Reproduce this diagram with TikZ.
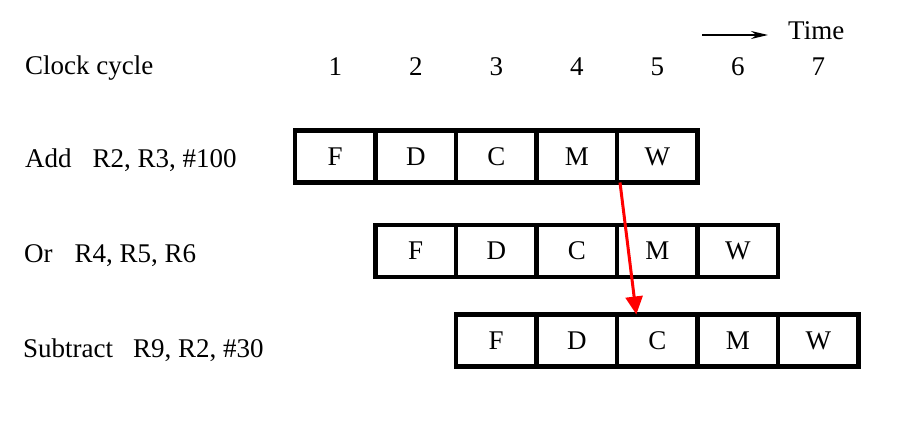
\documentclass[tikz,border=0pt]{standalone}
\usepackage{fontspec}
\setmainfont{Liberation Serif}
\usetikzlibrary{arrows.meta}
\usetikzlibrary{calc}

\begin{document}
\begin{tikzpicture}[x=1pt,y=-1pt,
  cell/.style={draw,line width=4.5pt,outer sep=0pt,inner sep=0pt,minimum width=80.5pt,minimum height=52pt,font=\fontsize{27}{31}\selectfont},
  lbl/.style={anchor=base west,inner sep=0pt,font=\fontsize{27}{31}\selectfont},
  num/.style={anchor=base,inner sep=0pt,font=\fontsize{27}{31}\selectfont},
  hazard/.style={red,line width=3pt,-{Triangle[length=18pt,width=17pt]}},
  timeline/.style={black,line width=2pt,-{Stealth[length=17pt,width=8pt]}}]
\useasboundingbox (0,0) rectangle (903,438);

% header
\node (clock) at (25,75) [lbl] {Clock cycle};
\node (n1) at (335.25,76) [num] {1};
\node (n2) at (415.75,76) [num] {2};
\node (n3) at (496.25,76) [num] {3};
\node (n4) at (576.75,76) [num] {4};
\node (n5) at (657.25,76) [num] {5};
\node (n6) at (737.75,76) [num] {6};
\node (n7) at (818.25,76) [num] {7};

\node (time) at (788,40) [lbl] {Time};
\coordinate (tstart) at (702,35);
\coordinate (tend) at (768,35);
\draw [timeline] (tstart) -- (tend);

% instructions
\node (add) at (25,168) [lbl] {Add\hspace{21pt}R2, R3, \#100};
\node (or) at (24,263) [lbl] {Or\hspace{22pt}R4, R5, R6};
\node (sub) at (23,358) [lbl] {Subtract\hspace{20pt}R9, R2, \#30};

\begin{scope}[xshift=0pt]
\node (a1) at (335.25,156.5) [cell] {F};
\node (a2) at (415.75,156.5) [cell] {D};
\node (a3) at (496.25,156.5) [cell] {C};
\node (a4) at (576.75,156.5) [cell] {M};
\node (a5) at (657.25,156.5) [cell] {W};
\end{scope}

\begin{scope}[xshift=80.5pt]
\node (b1) at (335.25,251) [cell] {F};
\node (b2) at (415.75,251) [cell] {D};
\node (b3) at (496.25,251) [cell] {C};
\node (b4) at (576.75,251) [cell] {M};
\node (b5) at (657.25,251) [cell] {W};
\end{scope}

\begin{scope}[xshift=161pt]
\node (c1) at (335.25,340.5) [cell] {F};
\node (c2) at (415.75,340.5) [cell] {D};
\node (c3) at (496.25,340.5) [cell] {C};
\node (c4) at (576.75,340.5) [cell] {M};
\node (c5) at (657.25,340.5) [cell] {W};
\end{scope}

% forwarding
\draw [hazard] ([xshift=3pt]a5.south west) -- ($(c3.north west)!0.24!(c3.north east)$);

\end{tikzpicture}
\end{document}
